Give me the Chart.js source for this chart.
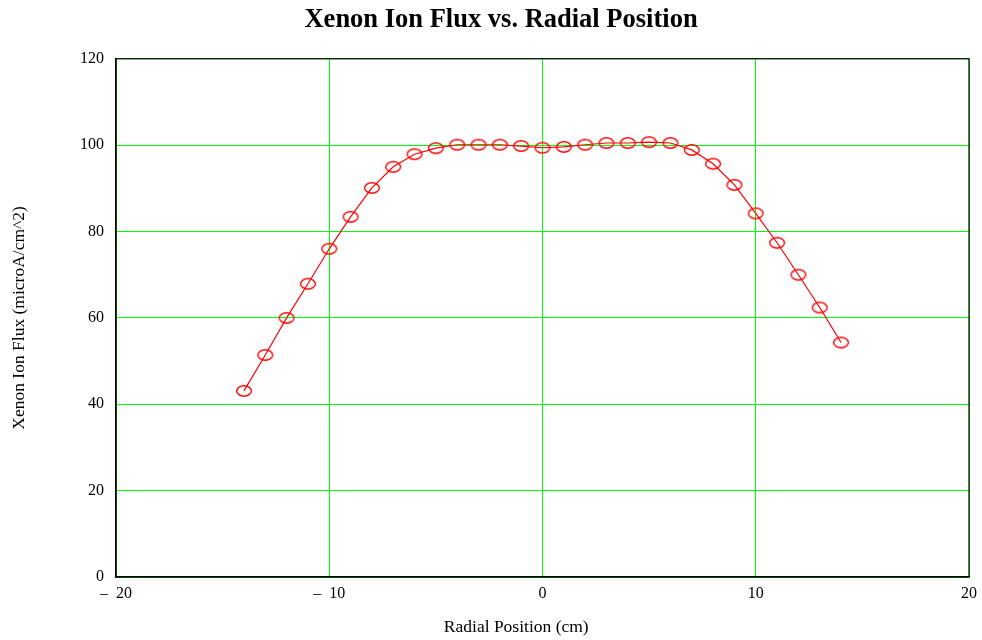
<!DOCTYPE html>
<html>
<head>
<meta charset="utf-8">
<script src="https://cdn.jsdelivr.net/npm/chart.js@4"></script>
<style>
  html, body { margin: 0; padding: 0; background: #fff; }
  #wrap { width: 982px; height: 640px; }
</style>
</head>
<body>
<div id="wrap"><canvas id="fluxChart" width="982" height="640"></canvas></div>
<script>
// Radial positions (cm) and measured ion flux (microA/cm^2)
const positions = [-14, -13, -12, -11, -10, -9, -8, -7, -6, -5, -4, -3, -2, -1, 0,
                   1, 2, 3, 4, 5, 6, 7, 8, 9, 10, 11, 12, 13, 14];
const flux = [43.1, 51.4, 60.0, 67.9, 76.0, 83.4, 90.1, 95.0, 97.9, 99.3, 100.1, 100.1, 100.1, 99.8, 99.4,
              99.6, 100.1, 100.5, 100.5, 100.7, 100.5, 98.9, 95.7, 90.8, 84.2, 77.4, 70.0, 62.4, 54.3];
const xTicks = [-20, -10, 0, 10, 20];
const yTicks = [0, 20, 40, 60, 80, 100, 120];

const points = positions.map((x, i) => ({ x: x, y: flux[i] }));

// Open red ellipse used as the marker
const marker = document.createElement('canvas');
marker.width = 18;
marker.height = 14;
const mctx = marker.getContext('2d');
mctx.strokeStyle = '#ff0000';
mctx.lineWidth = 1.4;
mctx.beginPath();
mctx.ellipse(9, 7, 7.4, 5.2, 0, 0, Math.PI * 2);
mctx.stroke();

const green = '#00ff00';
const serif = 'Liberation Serif, Times New Roman, serif';

// black frame round the whole plot area (top and right sides too)
const framePlugin = {
    id: 'frame',
    afterDatasetsDraw(chart) {
        const { ctx, chartArea: a } = chart;
        ctx.save();
        ctx.strokeStyle = '#000';
        ctx.lineWidth = 1.2;
        ctx.strokeRect(a.left, a.top, a.right - a.left, a.bottom - a.top);
        ctx.restore();
    }
};

const fluxChart = new Chart(document.getElementById('fluxChart'), {
    type: 'scatter',
    data: {
        datasets: [{
            label: 'Xenon Ion Flux',
            data: points,
            showLine: true,
            borderColor: '#ff0000',
            borderWidth: 1.2,
            pointStyle: marker,
            pointRadius: 7,
            pointHoverRadius: 7
        }]
    },
    options: {
        responsive: false,
        animation: false,
        events: [],
        layout: { padding: { left: 0, right: 13, top: 0, bottom: 0 } },
        plugins: {
            legend: { display: false },
            tooltip: { enabled: false },
            title: {
                display: true,
                text: '\u00a0'.repeat(5) + 'Xenon Ion Flux vs. Radial Position',
                color: '#000',
                font: { family: serif, size: 26.5, weight: 'bold' },
                padding: { top: 4, bottom: 23 }
            }
        },
        scales: {
            x: {
                type: 'linear',
                min: -20,
                max: 20,
                afterBuildTicks: (scale) => { scale.ticks = xTicks.map(v => ({ value: v })); },
                afterFit: (scale) => {
                    scale.height = 63;
                    scale.paddingLeft = 0;
                    scale.paddingRight = 0;
                },
                ticks: {
                    color: '#000',
                    padding: 7,
                    maxRotation: 0,
                    font: { family: serif, size: 16 },
                    callback: (v) => v < 0 ? '\u2013  ' + Math.abs(v) : String(v)
                },
                grid: { drawTicks: false, lineWidth: 1, color: green },
                border: { color: '#000', width: 1.2 },
                title: {
                    display: true,
                    text: 'Radial Position (cm)' + '\u00a0'.repeat(12),
                    color: '#000',
                    font: { family: serif, size: 17.5 },
                    padding: { top: 0, bottom: 2 }
                }
            },
            y: {
                type: 'linear',
                min: 0,
                max: 120,
                afterBuildTicks: (scale) => { scale.ticks = yTicks.map(v => ({ value: v })); },
                afterFit: (scale) => { scale.width = 116; },
                ticks: {
                    color: '#000',
                    padding: 12,
                    font: { family: serif, size: 16 }
                },
                grid: { drawTicks: false, lineWidth: 1, color: green },
                border: { color: '#000', width: 1.2 },
                title: {
                    display: true,
                    text: 'Xenon Ion Flux (microA/cm^2)',
                    color: '#000',
                    font: { family: serif, size: 17.5 },
                    padding: { top: 9, bottom: 0 }
                }
            }
        }
    },
    plugins: [framePlugin]
});
</script>
</body>
</html>
